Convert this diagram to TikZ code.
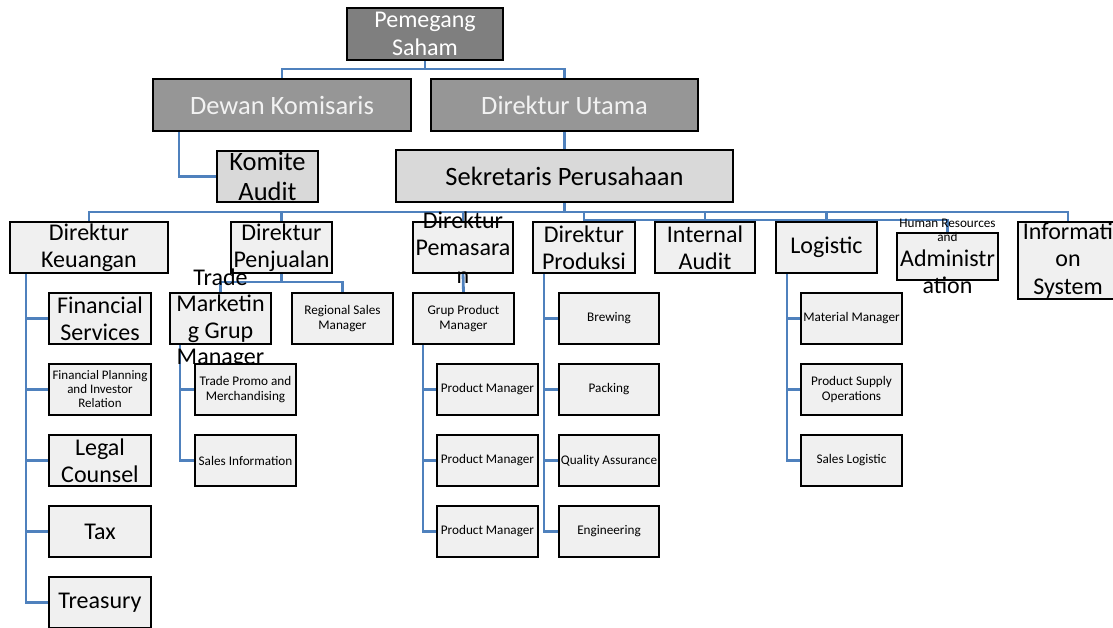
\documentclass[tikz,border=0pt]{standalone}
\usepackage{fontspec}
\setmainfont{Carlito}
\pgfdeclarelayer{links}
\pgfsetlayers{links,main}

\definecolor{linkblue}{RGB}{79,129,189}
\definecolor{topgray}{RGB}{127,127,127}
\definecolor{midgray}{RGB}{150,150,150}
\definecolor{secgray}{RGB}{217,217,217}
\definecolor{unitgray}{RGB}{240,240,240}

\newcommand{\bigtxt}{\fontsize{24}{27.5}\selectfont}
\newcommand{\headtxt}{\fontsize{26.5}{30}\selectfont}
\newcommand{\smalltxt}{\fontsize{13.2}{14.5}\selectfont}

\tikzset{
  box/.style={draw=black, line width=2.9pt, inner sep=0pt, outer sep=0pt, rectangle},
  unit/.style={box, fill=unitgray},
  txt/.style={inner sep=0pt, align=center, text=black},
  link/.style={draw=linkblue, line width=2.8pt},
}

\begin{document}
\begin{tikzpicture}[x=1pt, y=-1pt]
\useasboundingbox (0,0) rectangle (1113,627);
\clip (0,0) rectangle (1113,627);

% ---------- top management ----------
\node[box, fill=topgray, minimum width=156, minimum height=52,
  label={[txt, text=white, font=\bigtxt]center:Pemegang\\Saham}] (ps) at (425,34) {};
\node[box, fill=midgray, minimum width=258, minimum height=52,
  label={[txt, text=white!95!black, font=\headtxt]center:Dewan Komisaris}] (dk) at (282,105) {};
\node[box, fill=midgray, minimum width=267, minimum height=52,
  label={[txt, text=white!95!black, font=\headtxt]center:Direktur Utama}] (du) at (564.5,105) {};
\node[box, fill=secgray, minimum width=101, minimum height=51,
  label={[txt, font=\headtxt]center:Komite\\Audit}] (ka) at (267.5,176.5) {};
\node[box, fill=secgray, minimum width=337, minimum height=52,
  label={[txt, font=\headtxt]center:Sekretaris Perusahaan}] (sp) at (564.5,176) {};

% ---------- directors ----------
\node[unit, minimum width=158, minimum height=51,
  label={[txt, font=\bigtxt]center:Direktur\\Keuangan}] (dkeu) at (89,247.5) {};
\node[unit, minimum width=101, minimum height=51,
  label={[txt, font=\bigtxt]center:Direktur\\Penjualan}] (dpj) at (281.5,247.5) {};
\node[unit, minimum width=100, minimum height=51,
  label={[txt, font=\bigtxt]center:Direktur\\Pemasara\\n}] (dpm) at (463,247.5) {};
\node[unit, minimum width=102, minimum height=51,
  label={[txt, font=\bigtxt]center:Direktur\\Produksi}] (dpr) at (584,247.5) {};
\node[unit, minimum width=100, minimum height=51,
  label={[txt, font=\bigtxt]center:Internal\\Audit}] (ia) at (705,247.5) {};
\node[unit, minimum width=101, minimum height=51,
  label={[txt, font=\bigtxt]center:Logistic}] (lg) at (826.5,247.5) {};
\node[unit, minimum width=101, minimum height=47,
  label={[txt, font=\smalltxt, yshift=26pt]center:Human Resources\\and},
  label={[txt, font=\fontsize{24}{27}\selectfont, yshift=-15pt]center:Administr\\ation}] (hr) at (947.5,256.5) {};
\node[unit, minimum width=100, minimum height=77,
  label={[txt, font=\bigtxt]center:Informati\\on\\System}] (is) at (1068,260.5) {};

% ---------- finance ----------
\node[unit, minimum width=102, minimum height=51,
  label={[txt, font=\bigtxt]center:Financial\\Services}] (fs) at (100,318.5) {};
\node[unit, minimum width=102, minimum height=51,
  label={[txt, font=\fontsize{13}{14}\selectfont]center:Financial Planning\\and Investor\\Relation}] (fp) at (100,389.5) {};
\node[unit, minimum width=102, minimum height=51,
  label={[txt, font=\bigtxt]center:Legal\\Counsel}] (lc) at (100,460.5) {};
\node[unit, minimum width=102, minimum height=51,
  label={[txt, font=\bigtxt]center:Tax}] (tx) at (100,531.5) {};
\node[unit, minimum width=102, minimum height=51,
  label={[txt, font=\bigtxt]center:Treasury}] (tr) at (100,602.5) {};

% ---------- sales ----------
\node[unit, minimum width=101, minimum height=51,
  label={[txt, font=\fontsize{24}{26.5}\selectfont]center:Trade\\Marketin\\g Grup\\Manager}] (tm) at (220.5,318.5) {};
\node[unit, minimum width=101, minimum height=51,
  label={[txt, font=\smalltxt]center:Regional Sales\\Manager}] (rs) at (342.5,318.5) {};
\node[unit, minimum width=101, minimum height=51,
  label={[txt, font=\smalltxt]center:Trade Promo and\\Merchandising}] (tp) at (245.5,389.5) {};
\node[unit, minimum width=101, minimum height=51,
  label={[txt, font=\smalltxt]center:Sales Information}] (si) at (245.5,460.5) {};

% ---------- marketing ----------
\node[unit, minimum width=101, minimum height=51,
  label={[txt, font=\smalltxt]center:Grup Product\\Manager}] (gpm) at (463.5,318.5) {};
\node[unit, minimum width=101, minimum height=51,
  label={[txt, font=\smalltxt]center:Product Manager}] (pma) at (487.5,389.5) {};
\node[unit, minimum width=101, minimum height=51,
  label={[txt, font=\smalltxt]center:Product Manager}] (pmb) at (487.5,460.5) {};
\node[unit, minimum width=101, minimum height=51,
  label={[txt, font=\smalltxt]center:Product Manager}] (pmc) at (487.5,531.5) {};

% ---------- production ----------
\node[unit, minimum width=100, minimum height=51,
  label={[txt, font=\smalltxt]center:Brewing}] (br) at (609,318.5) {};
\node[unit, minimum width=100, minimum height=51,
  label={[txt, font=\smalltxt]center:Packing}] (pk) at (609,389.5) {};
\node[unit, minimum width=100, minimum height=51,
  label={[txt, font=\smalltxt]center:Quality Assurance}] (qa) at (609,460.5) {};
\node[unit, minimum width=100, minimum height=51,
  label={[txt, font=\smalltxt]center:Engineering}] (en) at (609,531.5) {};

% ---------- logistics ----------
\node[unit, minimum width=101, minimum height=51,
  label={[txt, font=\smalltxt]center:Material Manager}] (mm) at (851.5,318.5) {};
\node[unit, minimum width=101, minimum height=51,
  label={[txt, font=\smalltxt]center:Product Supply\\Operations}] (pso) at (851.5,389.5) {};
\node[unit, minimum width=101, minimum height=51,
  label={[txt, font=\smalltxt]center:Sales Logistic}] (sl) at (851.5,460.5) {};

% ---------- connectors (behind the boxes) ----------
\coordinate (top) at (425,69);
\coordinate (bus) at (564.5,212);
\coordinate (hrbus) at (0,220);
\coordinate (keux) at (26,0);
\coordinate (sjx) at (0,282);
\coordinate (tmx) at (180,0);
\coordinate (gpx) at (423,0);
\coordinate (prx) at (544,0);
\coordinate (lgx) at (787,0);

\begin{pgfonlayer}{links}
\draw[link] (ps.south) -- (top) -| (dk.north);
\draw[link] (top) -| (du.north);
\draw[link] (dk.south -| 179,0) |- (ka.west);
\draw[link] (du.south) -- (sp.north);

\draw[link] (sp.south) -- (bus);
\foreach \d in {dkeu,dpj,dpm,dpr,ia,lg,is}
  \draw[link] (bus) -| (\d.north);
\draw[link] (dpr.north |- bus) -- (dpr.north |- hrbus) -| (hr.north);

\foreach \c in {fs,fp,lc,tx,tr}
  \draw[link] (dkeu.south -| keux) |- (\c.west);

\draw[link] (dpj.south) -- (dpj.south |- sjx) -| (tm.north);
\draw[link] (dpj.south |- sjx) -| (rs.north);
\foreach \c in {tp,si}
  \draw[link] (tm.south -| tmx) |- (\c.west);

\draw[link] (dpm.south) -- (gpm.north);
\foreach \c in {pma,pmb,pmc}
  \draw[link] (gpm.south -| gpx) |- (\c.west);

\foreach \c in {br,pk,qa,en}
  \draw[link] (dpr.south -| prx) |- (\c.west);

\foreach \c in {mm,pso,sl}
  \draw[link] (lg.south -| lgx) |- (\c.west);
\end{pgfonlayer}
\end{tikzpicture}
\end{document}
